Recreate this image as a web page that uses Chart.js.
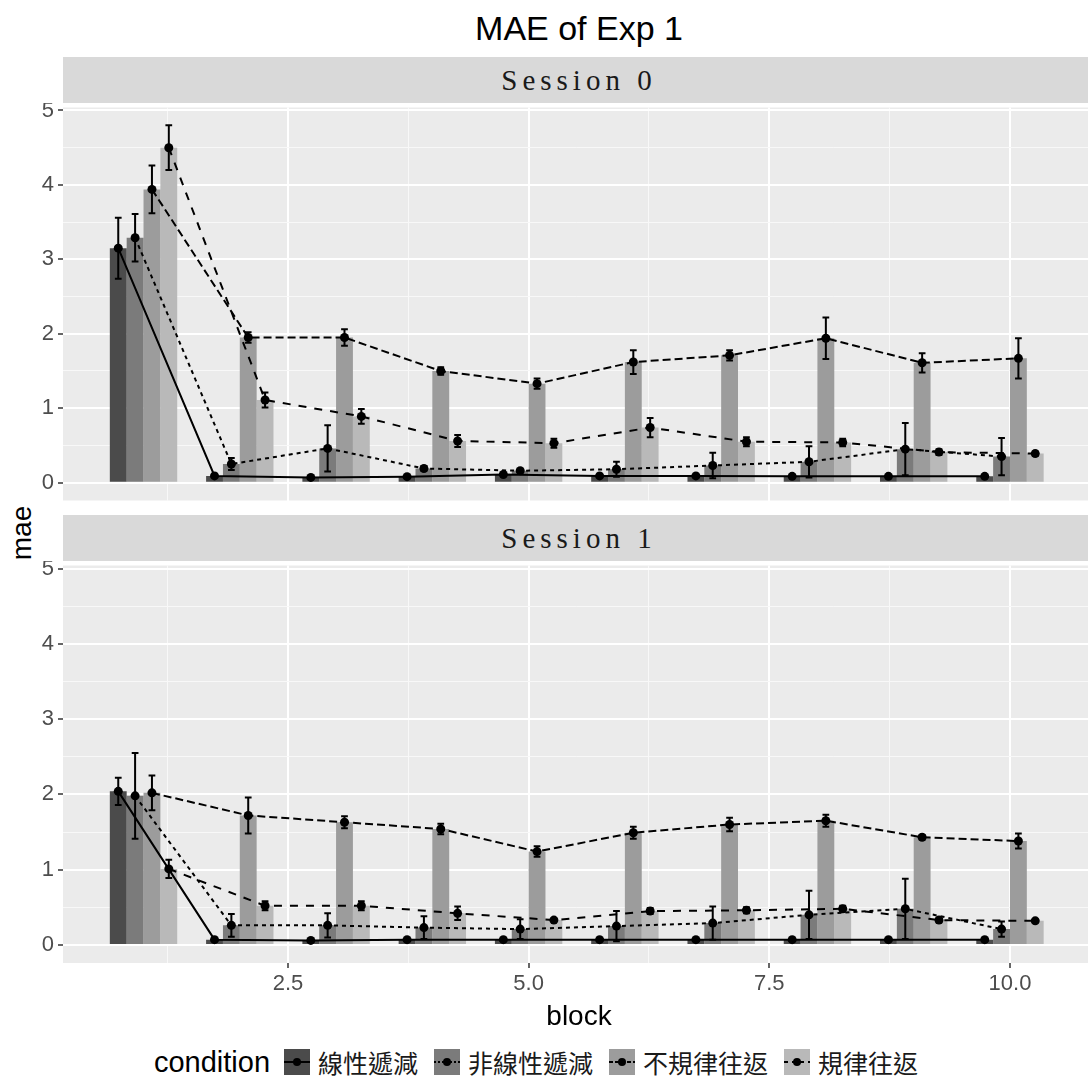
<!DOCTYPE html>
<html>
<head>
<meta charset="utf-8">
<script src="https://cdn.jsdelivr.net/npm/chart.js@4.4.1/dist/chart.umd.min.js"></script>
<style>
  html, body { margin: 0; padding: 0; background: #fff; width: 1088px; height: 1088px; overflow: hidden; }
  #wrap { position: relative; width: 1088px; height: 1088px; font-family: "Liberation Sans", Arial, sans-serif; }
  canvas { position: absolute; left: 0; }
  .strip { position: absolute; left: 63px; width: 1032px; height: 46px; line-height: 46px; background: #d9d9d9;
           text-align: center; color: #1a1a1a; font-family: "Liberation Serif", serif; font-size: 29px; letter-spacing: 5px; }
  #title { position: absolute; left: 63px; width: 1032px; top: 11px; text-align: center; font-size: 34px; line-height: 34px; color: #000; }
  #xtitle { position: absolute; left: 63px; width: 1032px; top: 1002px; text-align: center; font-size: 28px; line-height: 28px; color: #000; }
  #ytitle { position: absolute; left: 22px; top: 533px; transform: translate(-50%, -50%) rotate(-90deg); font-size: 28px; line-height: 28px; color: #000; white-space: nowrap; }
  #legend { position: absolute; left: 0; width: 1088px; top: 1044px; height: 36px; display: flex; justify-content: center; align-items: center; }
  #legend .ttl { font-size: 29px; margin-right: 14px; color: #000; }
  #legend .key { width: 26px; height: 26px; margin-right: 8px; display: block; }
  #legend .lab { font-family: "Noto Sans CJK TC", "Noto Sans CJK SC", sans-serif; font-size: 25px; color: #1a1a1a; margin-right: 16px; }
</style>
</head>
<body>
<div id="wrap">
  <div id="title">MAE of Exp 1</div>
  <div class="strip" id="strip0" style="top:57px"></div>
  <canvas id="panel0" width="1095" height="402" style="top:103px"></canvas>
  <div class="strip" id="strip1" style="top:515px"></div>
  <canvas id="panel1" width="1095" height="444" style="top:561px"></canvas>
  <div id="xtitle">block</div>
  <div id="ytitle">mae</div>
  <div id="legend"></div>
</div>
<script>
// data
const blocks = [1, 2, 3, 4, 5, 6, 7, 8, 9, 10];
const conditions = ['線性遞減', '非線性遞減', '不規律往返', '規律往返'];
const sessions = ['Session 0', 'Session 1'];
const xTickLabels = [2.5, 5.0, 7.5, 10.0];
const yTickLabels = [0, 1, 2, 3, 4, 5];

// Session 0
const s0Lin      = [3.15, 0.09, 0.07, 0.08, 0.11, 0.09, 0.09, 0.085, 0.085, 0.085];
const s0LinErr   = [0.41, 0.01, 0.01, 0.01, 0.01, 0.01, 0.01, 0.01, 0.01, 0.01];
const s0NonLin    = [3.29, 0.25, 0.46, 0.19, 0.16, 0.18, 0.23, 0.28, 0.45, 0.35];
const s0NonLinErr = [0.32, 0.08, 0.31, 0.03, 0.02, 0.10, 0.17, 0.21, 0.35, 0.25];
const s0Irreg    = [3.94, 1.95, 1.95, 1.50, 1.33, 1.62, 1.71, 1.94, 1.61, 1.67];
const s0IrregErr = [0.32, 0.07, 0.11, 0.05, 0.07, 0.16, 0.07, 0.28, 0.13, 0.27];
const s0Reg      = [4.50, 1.11, 0.89, 0.56, 0.53, 0.74, 0.55, 0.54, 0.41, 0.39];
const s0RegErr   = [0.30, 0.10, 0.10, 0.08, 0.06, 0.13, 0.06, 0.05, 0.04, 0.03];

// Session 1
const s1Lin      = [2.04, 0.07, 0.06, 0.07, 0.07, 0.07, 0.07, 0.07, 0.07, 0.07];
const s1LinErr   = [0.18, 0.01, 0.01, 0.01, 0.01, 0.01, 0.01, 0.01, 0.01, 0.01];
const s1NonLin    = [1.98, 0.26, 0.26, 0.23, 0.21, 0.25, 0.29, 0.40, 0.48, 0.21];
const s1NonLinErr = [0.57, 0.15, 0.16, 0.15, 0.13, 0.20, 0.22, 0.32, 0.40, 0.10];
const s1Irreg    = [2.02, 1.72, 1.63, 1.54, 1.24, 1.49, 1.60, 1.65, 1.43, 1.38];
const s1IrregErr = [0.23, 0.24, 0.08, 0.07, 0.07, 0.08, 0.09, 0.08, 0.03, 0.10];
const s1Reg      = [1.01, 0.52, 0.52, 0.42, 0.33, 0.45, 0.46, 0.48, 0.33, 0.32];
const s1RegErr   = [0.12, 0.06, 0.06, 0.09, 0.02, 0.04, 0.04, 0.04, 0.03, 0.02];

const fills = ['#4b4b4b', '#7b7b7b', '#9c9c9c', '#b9b9b9'];
const dashes = [[], [4, 4], [8, 4], [8, 8]];
const groupWidth = 0.7;
const dodge = conditions.map((c, i) => (i - 1.5) * groupWidth / conditions.length);

const isMajor = (c, step) => !!c.tick && Math.abs(c.tick.value / step - Math.round(c.tick.value / step)) < 1e-6;

const panelBg = {
  id: 'panelBg',
  beforeDraw(chart) {
    const { ctx, chartArea: a } = chart;
    ctx.save();
    ctx.fillStyle = '#ebebeb';
    ctx.fillRect(a.left, a.top, a.right - a.left, a.bottom - a.top);
    ctx.restore();
  }
};

// error bars for the line datasets (uses dataset.errors)
const errorBars = {
  id: 'errorBars',
  afterDatasetsDraw(chart) {
    const { ctx, scales: { x, y } } = chart;
    ctx.save();
    ctx.strokeStyle = '#000';
    ctx.lineWidth = 2;
    chart.data.datasets.forEach(ds => {
      if (!ds.errors) return;
      ds.data.forEach((p, j) => {
        const e = ds.errors[j];
        const px = x.getPixelForValue(p.x);
        const cap = x.getPixelForValue(p.x + 0.035) - px;
        const yt = y.getPixelForValue(p.y + e), yb = y.getPixelForValue(p.y - e);
        ctx.beginPath();
        ctx.moveTo(px, yt); ctx.lineTo(px, yb);
        ctx.moveTo(px - cap, yt); ctx.lineTo(px + cap, yt);
        ctx.moveTo(px - cap, yb); ctx.lineTo(px + cap, yb);
        ctx.stroke();
      });
    });
    ctx.restore();
  }
};

function makePanel(id, means, errs, showX) {
  const datasets = [];
  means.forEach((vals, i) => {
    datasets.push({
      type: 'bar', label: conditions[i],
      data: blocks.map((b, j) => ({ x: b, y: vals[j] })),
      backgroundColor: fills[i], borderWidth: 0,
      categoryPercentage: groupWidth, barPercentage: 1, order: 3
    });
  });
  means.forEach((vals, i) => {
    datasets.push({
      type: 'line', label: conditions[i],
      data: blocks.map((b, j) => ({ x: b + dodge[i], y: vals[j] })),
      errors: errs[i],
      borderColor: '#000', borderWidth: 2, borderDash: dashes[i],
      pointRadius: 4.5, pointBackgroundColor: '#000', pointBorderWidth: 0,
      tension: 0, order: 1
    });
  });

  return new Chart(document.getElementById(id), {
    type: 'bar',
    data: { datasets },
    plugins: [panelBg, errorBars],
    options: {
      responsive: false, animation: false, events: [],
      layout: { padding: 0 },
      plugins: { legend: { display: false }, tooltip: { enabled: false } },
      scales: {
        x: {
          type: 'linear', min: 0.1636, max: 10.8364, offset: false,
          border: { display: false },
          grid: {
            offset: false,
            color: c => isMajor(c, 2.5) ? '#ffffff' : '#f8f8f8',
            lineWidth: c => isMajor(c, 2.5) ? 2 : 1,
            drawTicks: showX, tickLength: 5, tickWidth: 1.5,
            tickColor: c => isMajor(c, 2.5) ? '#333333' : 'rgba(0,0,0,0)'
          },
          ticks: {
            display: showX, stepSize: 1.25, includeBounds: false, autoSkip: false, maxRotation: 0,
            color: '#4d4d4d', padding: 3, font: { family: 'Liberation Sans', size: 22 },
            callback: v => (xTickLabels.some(t => Math.abs(t - v) < 1e-6) ? v.toFixed(1) : '')
          },
          afterFit: s => { s.height = showX ? 42 : 0; s.paddingLeft = 0; s.paddingRight = 0; }
        },
        y: {
          min: -0.24, max: 5.04,
          border: { display: false },
          grid: {
            color: c => isMajor(c, 1) ? '#ffffff' : '#f8f8f8',
            lineWidth: c => isMajor(c, 1) ? 2 : 1,
            tickLength: 5, tickWidth: 1.5,
            tickColor: c => isMajor(c, 1) ? '#333333' : 'rgba(0,0,0,0)'
          },
          ticks: {
            stepSize: 0.5, includeBounds: false, autoSkip: false,
            color: '#4d4d4d', padding: 4, font: { family: 'Liberation Sans', size: 22 },
            callback: v => (yTickLabels.includes(v) ? String(v) : '')
          },
          afterFit: s => { s.width = 63; s.paddingTop = 0; s.paddingBottom = 0; }
        }
      }
    }
  });
}

document.getElementById('strip0').textContent = sessions[0];
document.getElementById('strip1').textContent = sessions[1];

makePanel('panel0', [s0Lin, s0NonLin, s0Irreg, s0Reg], [s0LinErr, s0NonLinErr, s0IrregErr, s0RegErr], false);
makePanel('panel1', [s1Lin, s1NonLin, s1Irreg, s1Reg], [s1LinErr, s1NonLinErr, s1IrregErr, s1RegErr], true);

// legend
const legend = document.getElementById('legend');
legend.innerHTML = '<span class="ttl">condition</span>' + conditions.map((c, i) =>
  '<svg class="key" viewBox="0 0 26 26"><rect width="26" height="26" fill="' + fills[i] + '"/>' +
  '<line x1="0" y1="13" x2="26" y2="13" stroke="#000" stroke-width="2"' +
  (dashes[i].length ? ' stroke-dasharray="' + dashes[i].map(d => d / 2).join(',') + '"' : '') + '/>' +
  '<circle cx="13" cy="13" r="4" fill="#000"/></svg><span class="lab">' + c + '</span>'
).join('');
</script>
</body>
</html>
